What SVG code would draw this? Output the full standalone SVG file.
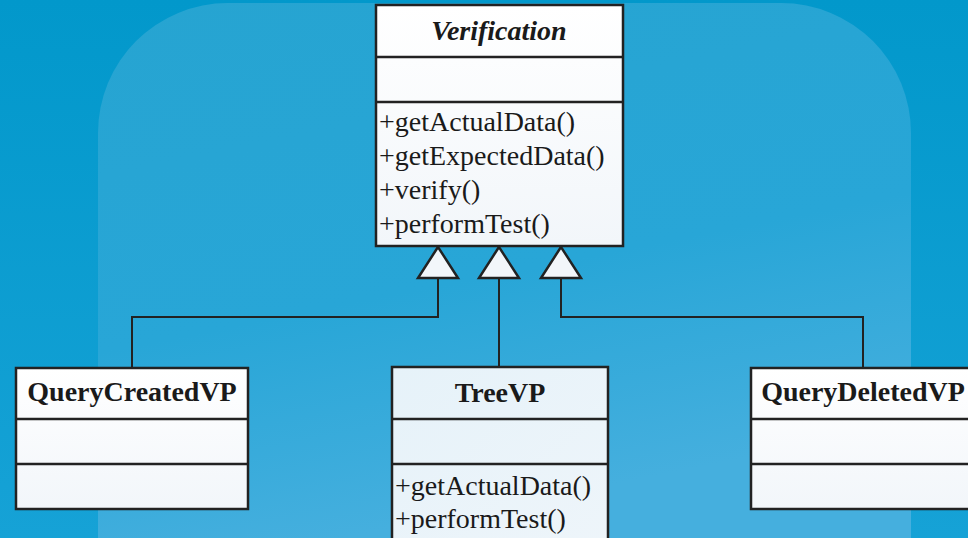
<svg xmlns="http://www.w3.org/2000/svg" width="968" height="538" viewBox="0 0 968 538">
<defs>
<linearGradient id="bg" x1="0" y1="0" x2="0" y2="1">
<stop offset="0" stop-color="#0298CB"/>
<stop offset="1" stop-color="#16A2D6"/>
</linearGradient>
<linearGradient id="panel" x1="0" y1="0" x2="0.3" y2="1">
<stop offset="0" stop-color="#26A4D1"/>
<stop offset="0.6" stop-color="#28A6D7"/>
<stop offset="1" stop-color="#45AFDE"/>
</linearGradient>
<linearGradient id="boxw" x1="0" y1="0" x2="0" y2="1">
<stop offset="0" stop-color="#FFFFFF"/>
<stop offset="1" stop-color="#F2F6FA"/>
</linearGradient>
<linearGradient id="boxb" x1="0" y1="0" x2="1" y2="1">
<stop offset="0" stop-color="#E6F2F9"/>
<stop offset="1" stop-color="#EEF5FA"/>
</linearGradient>
<style>
.box{stroke:#222;stroke-width:2.5}
.div{stroke:#222;stroke-width:2.5}
.conn{fill:none;stroke:#222;stroke-width:2}
.tri{fill:#F2F6FA;stroke:#222;stroke-width:2.5;stroke-linejoin:miter}
.title{font-family:"Liberation Serif","Times New Roman",serif;font-weight:bold;font-size:28px;fill:#1a1a1a;text-anchor:middle}
.meth{font-family:"Liberation Serif","Times New Roman",serif;font-size:28px;fill:#1a1a1a}
</style>
</defs>
<rect x="0" y="0" width="968" height="538" fill="url(#bg)"/>
<path d="M98,538 V133 A130,130 0 0 1 228,3 H781 A130,130 0 0 1 911,133 V538 Z" fill="url(#panel)"/>

<g id="connectors">
<polyline class="conn" points="438,278 438,317 132,317 132,368"/>
<line class="conn" x1="499" y1="278" x2="499" y2="367"/>
<polyline class="conn" points="561,278 561,317 863,317 863,368"/>
<polygon class="tri" points="438,247 418,278 458,278"/>
<polygon class="tri" points="499,247 479,278 519,278"/>
<polygon class="tri" points="561,247 541,278 581,278"/>
</g>

<g id="Verification">
<rect class="box" x="376" y="5" width="247" height="241" fill="url(#boxw)"/>
<line class="div" x1="376" y1="57" x2="623" y2="57"/>
<line class="div" x1="376" y1="102" x2="623" y2="102"/>
<text class="title" x="499" y="40" font-style="italic">Verification</text>
<text class="meth" x="379" y="131">+getActualData()</text>
<text class="meth" x="379" y="165">+getExpectedData()</text>
<text class="meth" x="379" y="199">+verify()</text>
<text class="meth" x="379" y="233">+performTest()</text>
</g>

<g id="QueryCreatedVP">
<rect class="box" x="16" y="368" width="232" height="141" fill="url(#boxw)"/>
<line class="div" x1="16" y1="419" x2="248" y2="419"/>
<line class="div" x1="16" y1="464" x2="248" y2="464"/>
<text class="title" x="132" y="401">QueryCreatedVP</text>
</g>

<g id="TreeVP">
<rect class="box" x="392" y="367" width="216" height="190" fill="url(#boxb)"/>
<line class="div" x1="392" y1="419" x2="608" y2="419"/>
<line class="div" x1="392" y1="464" x2="608" y2="464"/>
<text class="title" x="500" y="402">TreeVP</text>
<text class="meth" x="395" y="495">+getActualData()</text>
<text class="meth" x="395" y="528">+performTest()</text>
</g>

<g id="QueryDeletedVP">
<rect class="box" x="751" y="368" width="232" height="141" fill="url(#boxw)"/>
<line class="div" x1="751" y1="419" x2="983" y2="419"/>
<line class="div" x1="751" y1="464" x2="983" y2="464"/>
<text class="title" x="863" y="401">QueryDeletedVP</text>
</g>
</svg>
